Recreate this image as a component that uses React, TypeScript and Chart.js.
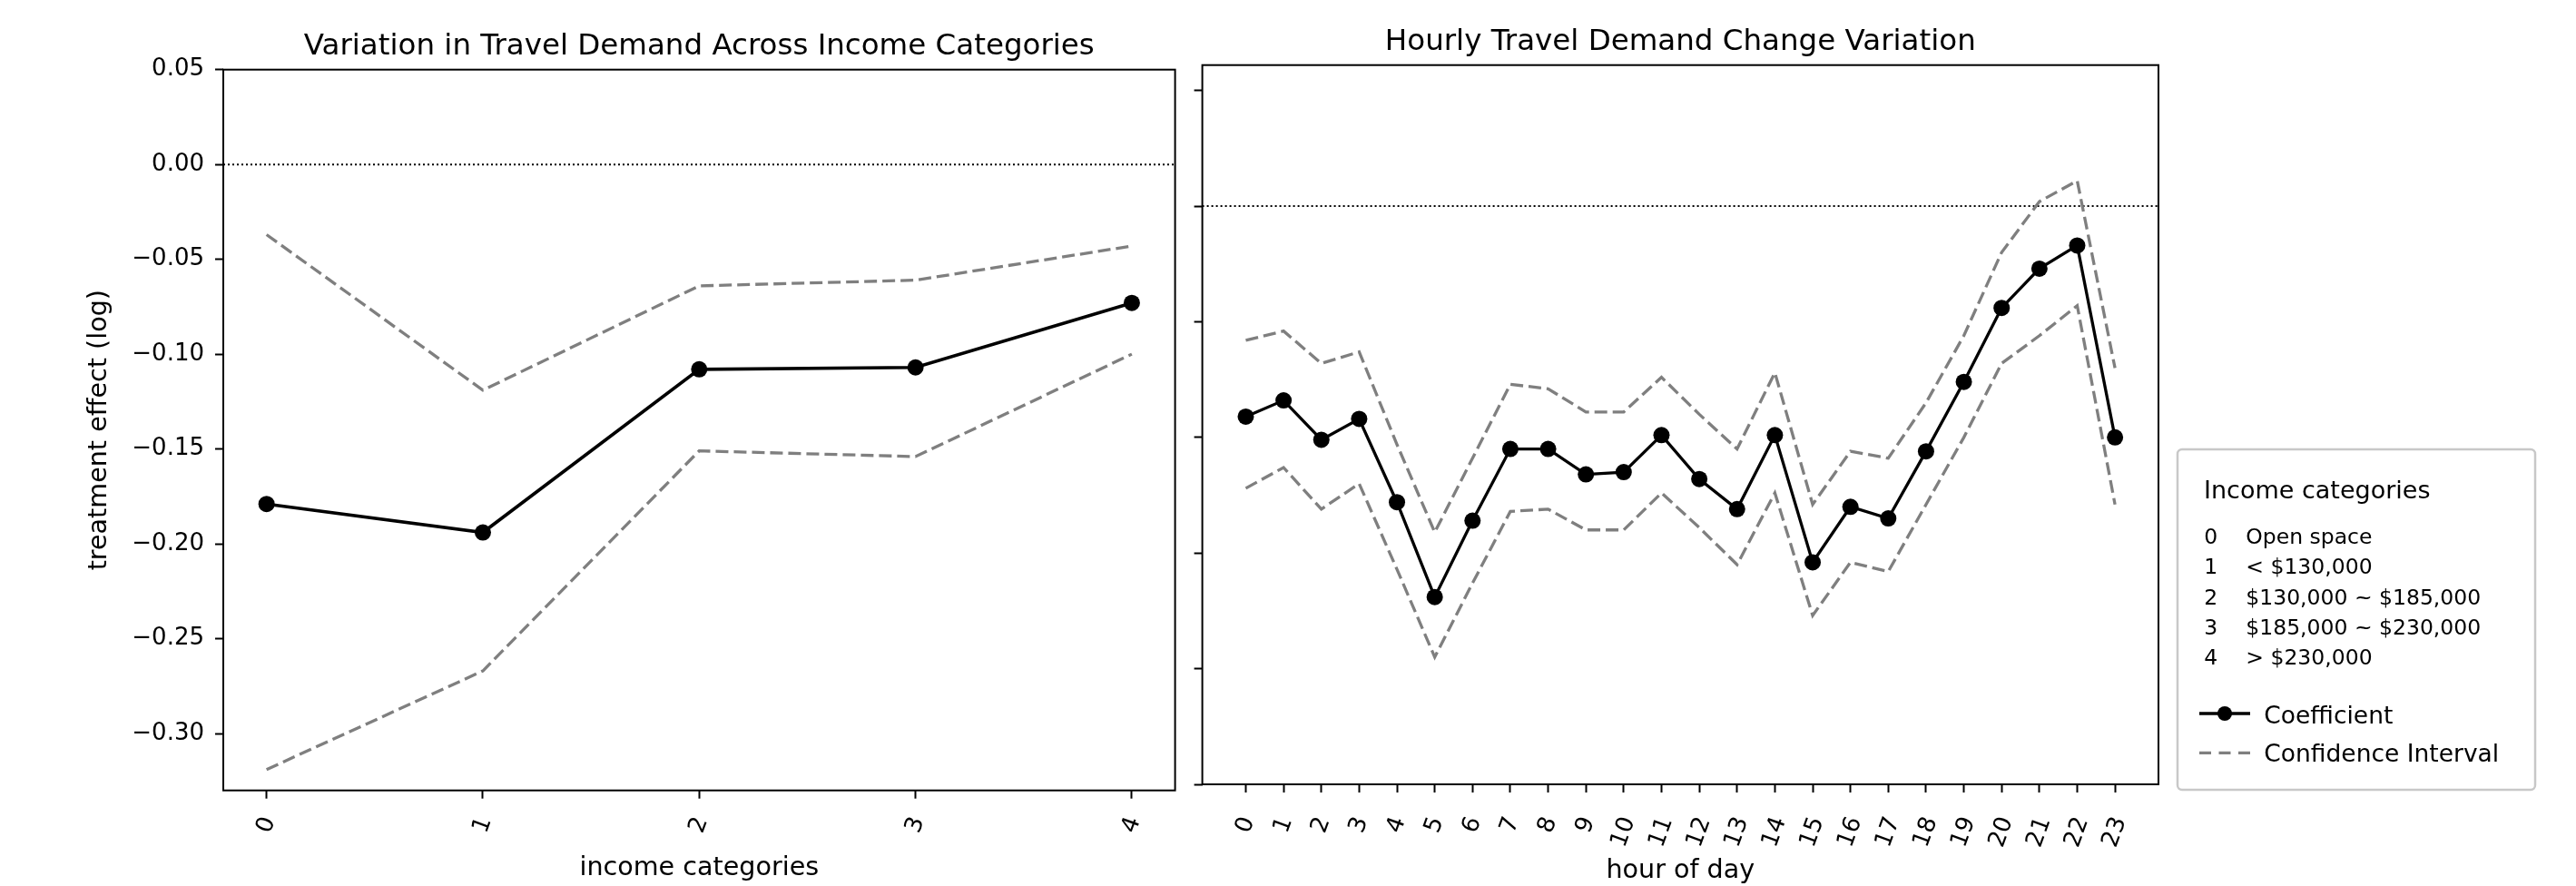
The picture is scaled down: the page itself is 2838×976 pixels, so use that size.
import React, { useEffect, useRef } from 'react';
import { Chart, registerables } from 'chart.js';

Chart.register(...registerables);

// ---------- data ----------
const incomeCategories = [0, 1, 2, 3, 4];
const incomeCoef = [-0.179, -0.194, -0.108, -0.107, -0.073];
const incomeUpper = [-0.037, -0.119, -0.064, -0.061, -0.043];
const incomeLower = [-0.319, -0.267, -0.151, -0.154, -0.1];
const incomeYTicks = [0.05, 0.0, -0.05, -0.1, -0.15, -0.2, -0.25, -0.3];

const hours = [0, 1, 2, 3, 4, 5, 6, 7, 8, 9, 10, 11, 12, 13, 14, 15, 16, 17, 18, 19, 20, 21, 22, 23];
const hourCoef = [
  -0.091, -0.084, -0.101, -0.092, -0.128, -0.169, -0.136, -0.105, -0.105, -0.116, -0.115, -0.099,
  -0.118, -0.131, -0.099, -0.154, -0.13, -0.135, -0.106, -0.076, -0.044, -0.027, -0.017, -0.1,
];
const hourUpper = [
  -0.058, -0.054, -0.068, -0.063, -0.103, -0.141, -0.109, -0.077, -0.079, -0.089, -0.089, -0.074,
  -0.09, -0.105, -0.072, -0.129, -0.106, -0.109, -0.085, -0.056, -0.02, 0.002, 0.011, -0.07,
];
const hourLower = [
  -0.122, -0.113, -0.131, -0.12, -0.157, -0.195, -0.163, -0.132, -0.131, -0.14, -0.14, -0.124,
  -0.139, -0.155, -0.124, -0.177, -0.154, -0.158, -0.129, -0.1, -0.068, -0.056, -0.043, -0.129,
];
const hourYTicks = [0.05, 0.0, -0.05, -0.1, -0.15, -0.2, -0.25];

const legendCodes = ['0', '1', '2', '3', '4'];
const legendNames = ['Open space', '< $130,000', '$130,000 ~ $185,000', '$185,000 ~ $230,000', '> $230,000'];
const legendTitle = 'Income categories';
const seriesNames = ['Coefficient', 'Confidence Interval'];

// ---------- style ----------
const FONT = '"DejaVu Sans", sans-serif';
const CI_COLOR = '#7f7f7f';
const CI_DASH = [14, 6];
const ROT = (70 * Math.PI) / 180;
const TITLE_SIZE = 32.5;
const LABEL_SIZE = 28.6;
const TICK_SIZE = 26;

const fmt = (v: number) => (v < -1e-9 ? '\u2212' : '') + Math.abs(v).toFixed(2);

function datasets(xs: number[], coef: number[], upper: number[], lower: number[], lw: number) {
  const pts = (ys: number[]) => xs.map((x, i) => ({ x, y: ys[i] }));
  return [
    {
      label: seriesNames[0],
      data: pts(coef),
      borderColor: '#000',
      backgroundColor: '#000',
      borderWidth: lw,
      pointRadius: 9,
      pointBorderWidth: 0,
      pointBackgroundColor: '#000',
      order: 0,
    },
    {
      label: seriesNames[1],
      data: pts(upper),
      borderColor: CI_COLOR,
      borderWidth: 3.3,
      borderDash: CI_DASH,
      pointRadius: 0,
      order: 1,
    },
    {
      label: seriesNames[1] + ' lower',
      data: pts(lower),
      borderColor: CI_COLOR,
      borderWidth: 3.3,
      borderDash: CI_DASH,
      pointRadius: 0,
      order: 2,
    },
  ];
}

type DecorCfg = {
  title: string;
  xTicks: number[];
  xLabel: string;
  xLabelY: number;
  tickPad: number;
  yLabel?: string;
  yLabelX?: number;
  legend?: boolean;
  offsetX: number;
};

function makeDecor(cfg: DecorCfg) {
  return {
    id: 'decor',
    beforeDatasetsDraw(chart: any) {
      const { ctx, chartArea: a, scales } = chart;
      const y0 = scales.y.getPixelForValue(0);
      ctx.save();
      ctx.beginPath();
      ctx.setLineDash([2, 3]);
      ctx.lineWidth = 2;
      ctx.strokeStyle = '#000';
      ctx.moveTo(a.left, y0);
      ctx.lineTo(a.right, y0);
      ctx.stroke();
      ctx.restore();
    },
    afterDraw(chart: any) {
      const { ctx, chartArea: a, scales } = chart;
      ctx.save();
      // frame
      ctx.strokeStyle = '#000';
      ctx.lineWidth = 2;
      ctx.setLineDash([]);
      ctx.strokeRect(a.left, a.top, a.right - a.left, a.bottom - a.top);
      // title
      ctx.fillStyle = '#000';
      ctx.font = `${TITLE_SIZE}px ${FONT}`;
      ctx.textAlign = 'center';
      ctx.textBaseline = 'alphabetic';
      ctx.fillText(cfg.title, (a.left + a.right) / 2, a.top - 17);
      // x tick labels (rotated)
      ctx.font = `${TICK_SIZE}px ${FONT}`;
      for (const v of cfg.xTicks) {
        const label = String(v);
        const w = ctx.measureText(label).width;
        const x = scales.x.getPixelForValue(v);
        const cy = a.bottom + cfg.tickPad + (w * Math.sin(ROT) + TICK_SIZE * Math.cos(ROT)) / 2;
        ctx.save();
        ctx.translate(x, cy);
        ctx.rotate(-ROT);
        ctx.textAlign = 'center';
        ctx.textBaseline = 'middle';
        ctx.fillText(label, 0, 0);
        ctx.restore();
      }
      // x label
      ctx.font = `${LABEL_SIZE}px ${FONT}`;
      ctx.textAlign = 'center';
      ctx.textBaseline = 'middle';
      ctx.fillText(cfg.xLabel, (a.left + a.right) / 2, cfg.xLabelY);
      // y label
      if (cfg.yLabel) {
        ctx.save();
        ctx.translate(cfg.yLabelX as number, (a.top + a.bottom) / 2);
        ctx.rotate(-Math.PI / 2);
        ctx.textAlign = 'center';
        ctx.textBaseline = 'middle';
        ctx.fillText(cfg.yLabel, 0, 0);
        ctx.restore();
      }
      // legend
      if (cfg.legend) {
        const ox = cfg.offsetX;
        const bx = 2399 - ox, by = 495, bw = 394, bh = 375;
        ctx.beginPath();
        ctx.roundRect(bx, by, bw, bh, 5);
        ctx.fillStyle = 'rgba(255,255,255,0.85)';
        ctx.fill();
        ctx.strokeStyle = '#c8c8c8';
        ctx.lineWidth = 2.5;
        ctx.stroke();
        ctx.fillStyle = '#000';
        ctx.textAlign = 'left';
        ctx.textBaseline = 'alphabetic';
        ctx.font = `27px ${FONT}`;
        ctx.fillText(legendTitle, 2428 - ox, 549);
        ctx.font = `23.5px ${FONT}`;
        legendCodes.forEach((c, i) => {
          const yb = 599.3 + i * 33.1;
          ctx.fillText(c, 2428.3 - ox, yb);
          ctx.fillText(legendNames[i], 2474.3 - ox, yb);
        });
        // coefficient entry
        ctx.beginPath();
        ctx.strokeStyle = '#000';
        ctx.lineWidth = 3.5;
        ctx.moveTo(2423 - ox, 786);
        ctx.lineTo(2479 - ox, 786);
        ctx.stroke();
        ctx.beginPath();
        ctx.arc(2451 - ox, 786, 8, 0, Math.PI * 2);
        ctx.fillStyle = '#000';
        ctx.fill();
        // CI entry
        ctx.beginPath();
        ctx.strokeStyle = CI_COLOR;
        ctx.lineWidth = 3.3;
        ctx.setLineDash([13, 8.5]);
        ctx.moveTo(2423 - ox, 829.3);
        ctx.lineTo(2479 - ox, 829.3);
        ctx.stroke();
        ctx.setLineDash([]);
        ctx.fillStyle = '#000';
        ctx.font = `26.5px ${FONT}`;
        ctx.fillText(seriesNames[0], 2494.3 - ox, 796.7);
        ctx.fillText(seriesNames[1], 2494.3 - ox, 839.3);
      }
      ctx.restore();
    },
  };
}

function axisCommon(ticks: number[], fixedSize: { width?: number; height?: number }, showLabels: boolean) {
  return {
    afterBuildTicks: (s: any) => {
      s.ticks = ticks.map((v) => ({ value: v }));
    },
    afterFit: (s: any) => {
      if (fixedSize.width !== undefined) s.width = fixedSize.width;
      if (fixedSize.height !== undefined) s.height = fixedSize.height;
    },
    border: { display: false },
    grid: {
      drawOnChartArea: false,
      drawTicks: true,
      tickLength: 9,
      tickWidth: 2,
      tickColor: '#000',
    },
    ticks: {
      display: showLabels,
      font: { family: FONT, size: TICK_SIZE },
      color: '#000',
      padding: 12,
      callback: (v: any) => fmt(Number(v)),
    },
  };
}

export default function App() {
  const leftRef = useRef<HTMLCanvasElement | null>(null);
  const rightRef = useRef<HTMLCanvasElement | null>(null);

  useEffect(() => {
    const H = 976;
    const LW = 1310;
    const RW = 2838 - LW;

    const left = new Chart(leftRef.current as HTMLCanvasElement, {
      type: 'line',
      data: { datasets: datasets(incomeCategories, incomeCoef, incomeUpper, incomeLower, 3.6) as any },
      options: {
        animation: false,
        responsive: false,
        devicePixelRatio: 1,
        layout: { padding: { left: 0, right: LW - 1294.6, top: 76.7, bottom: 0 } },
        plugins: { legend: { display: false }, tooltip: { enabled: false }, title: { display: false } },
        scales: {
          x: { type: 'linear', min: -0.2, max: 4.2, ...axisCommon(incomeCategories, { height: H - 870.7 }, false) } as any,
          y: { type: 'linear', min: -0.33, max: 0.05, ...axisCommon(incomeYTicks, { width: 246 }, true) } as any,
        },
      },
      plugins: [
        makeDecor({
          title: 'Variation in Travel Demand Across Income Categories',
          xTicks: incomeCategories,
          xLabel: 'income categories',
          xLabelY: 956.7,
          tickPad: 26,
          yLabel: 'treatment effect (log)',
          yLabelX: 110,
          offsetX: 0,
        }),
      ],
    });

    const right = new Chart(rightRef.current as HTMLCanvasElement, {
      type: 'line',
      data: { datasets: datasets(hours, hourCoef, hourUpper, hourLower, 3.3) as any },
      options: {
        animation: false,
        responsive: false,
        devicePixelRatio: 1,
        layout: { padding: { left: 0, right: RW - (2378 - LW), top: 71.7, bottom: 0 } },
        plugins: { legend: { display: false }, tooltip: { enabled: false }, title: { display: false } },
        scales: {
          x: { type: 'linear', min: -1.15, max: 24.15, ...axisCommon(hours, { height: H - 864 }, false) } as any,
          y: { type: 'linear', min: -0.25, max: 0.061, ...axisCommon(hourYTicks, { width: 1324.6 - LW }, false) } as any,
        },
      },
      plugins: [
        makeDecor({
          title: 'Hourly Travel Demand Change Variation',
          xTicks: hours,
          xLabel: 'hour of day',
          xLabelY: 960,
          tickPad: 32.8,
          legend: true,
          offsetX: LW,
        }),
      ],
    });

    return () => {
      left.destroy();
      right.destroy();
    };
  }, []);

  return (
    <div style={{ position: 'fixed', left: 0, top: 0, width: 2838, height: 976, background: '#fff', overflow: 'hidden' }}>
      <canvas ref={leftRef} width={1310} height={976} style={{ position: 'absolute', left: 0, top: 0, width: 1310, height: 976 }} />
      <canvas ref={rightRef} width={1528} height={976} style={{ position: 'absolute', left: 1310, top: 0, width: 1528, height: 976 }} />
    </div>
  );
}
